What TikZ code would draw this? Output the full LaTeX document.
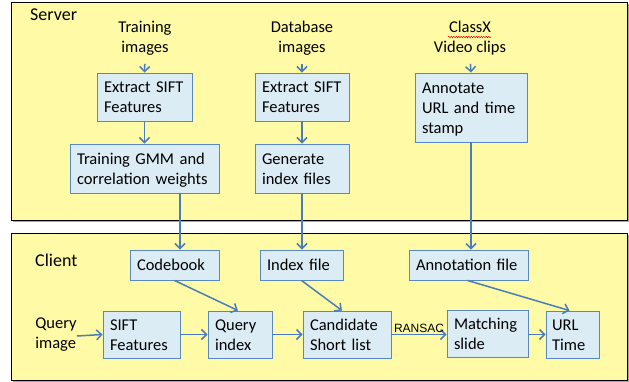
\documentclass[tikz,border=0pt]{standalone}
\usepackage{fontspec}
\setmainfont{Carlito}
\newfontfamily\ransacfont{Liberation Sans}
\usetikzlibrary{arrows.meta,shadows,decorations.pathmorphing}
\definecolor{panelfill}{RGB}{255,250,165}
\definecolor{boxfill}{RGB}{219,236,245}
\definecolor{boxline}{RGB}{88,136,190}
\definecolor{flowblue}{RGB}{74,126,187}
\newcommand{\bodyfont}{\fontsize{16.5}{20}\selectfont}
\newcommand{\panelfont}{\fontsize{18}{22}\selectfont}
% fixed first-line height and last-line depth so every block is centred alike
\newcommand{\topstrut}{\noindent\rule{0pt}{15pt}}
\newcommand{\botstrut}{\rule[-4pt]{0pt}{4pt}}
\begin{document}
\begin{tikzpicture}[x=1pt,y=-1pt,
  panel/.style={draw=black, line width=1.3pt, fill=panelfill, anchor=north west,
    inner sep=0pt, drop shadow={shadow xshift=1pt, shadow yshift=-1pt, opacity=0.35, fill=black}},
  proc/.style={draw=boxline, line width=0.9pt, fill=boxfill, align=left,
    inner xsep=7pt, inner ysep=0pt, font=\bodyfont,
    execute at begin node=\topstrut, execute at end node=\botstrut,
    drop shadow={shadow xshift=1.2pt, shadow yshift=-1.2pt, opacity=0.2, fill=black}},
  inlabel/.style={align=center, inner sep=0pt, font=\bodyfont,
    execute at begin node=\topstrut, execute at end node=\botstrut},
  arr/.style={draw=flowblue, line width=1.5pt, -{Straight Barb[length=5pt,width=10pt]}},
]
\useasboundingbox (0,0) rectangle (629,381);
\fill[white] (0,0) rectangle (629,381);

% two panels
\node[panel, minimum width=616pt, minimum height=218pt] (server) at (11,2) {};
\node[panel, minimum width=616pt, minimum height=147pt] (client) at (11,233) {};
\node[anchor=west, inner sep=0pt, font=\panelfont] (srvlbl) at (30,15) {Server};
\node[anchor=west, inner sep=0pt, font=\panelfont] (clilbl) at (35,260) {Client};

% server side inputs
\node[inlabel] (trin) at (145,39) {Training\\images};
\node[inlabel] (dbin) at (302,39) {Database\\images};
\node[inlabel] (vidin) at (470,39) {ClassX\\Video clips};
\draw[red, line width=0.5pt, decorate, decoration={snake, amplitude=0.7pt, segment length=2.5pt}]
  (448,37) -- (491,37);

% server processing boxes
\node[proc, text width=81pt, minimum height=48pt] (sift1) at (144.5,97) {Extract SIFT\\Features};
\node[proc, text width=135pt, minimum height=49pt] (gmm) at (144.5,168.5) {Training GMM and\\correlation weights};
\node[proc, text width=80pt, minimum height=48pt] (sift2) at (302,97) {Extract SIFT\\Features};
\node[proc, text width=80pt, minimum height=49pt] (genidx) at (302,168.5) {Generate\\index files};
\node[proc, text width=98pt, minimum height=69pt] (annot) at (471,107.5) {Annotate\\URL and time\\stamp};

% client boxes
\node[proc, text width=75pt, minimum height=30pt] (codebook) at (174.5,265) {Codebook};
\node[proc, text width=69pt, minimum height=30pt] (idxfile) at (301.5,265) {Index file};
\node[proc, text width=105pt, minimum height=30pt] (annfile) at (468.5,265) {Annotation file};
\node[inlabel, align=left] (qimg) at (56,335) {Query\\image};
\node[proc, text width=63pt, minimum height=47pt] (siftq) at (141.5,334.5) {SIFT\\Features};
\node[proc, text width=50pt, minimum height=47pt] (qidx) at (240,334.5) {Query\\index};
\node[proc, text width=74pt, minimum height=47pt] (cand) at (347,334.5) {Candidate\\Short list};
\node[proc, text width=67pt, minimum height=47pt] (match) at (487.5,333.5) {Matching\\slide};
\node[proc, text width=41pt, inner xsep=6pt, minimum height=47pt] (url) at (572.5,334.5) {URL\\Time};

% server flow
\draw[arr, shorten <=7pt] (trin.south) -- (sift1.north);
\draw[arr] (sift1.south) -- (gmm.north);
\draw[arr, shorten <=7pt] (dbin.south) -- (sift2.north);
\draw[arr] (sift2.south) -- (genidx.north);
\draw[arr, shorten <=7pt] (vidin.south) -- (annot.north);

% server to client
\draw[arr] ([xshift=35.5pt]gmm.south) -- ([xshift=5.5pt]codebook.north);
\draw[arr] (genidx.south) -- (genidx.south |- idxfile.north);
\draw[arr] (annot.south) -- (annot.south |- annfile.north);

% client flow
\draw[arr] ([yshift=-1pt]qimg.east) -- (siftq.west);
\draw[arr] (siftq.east) -- (qidx.west);
\draw[arr] (qidx.east) -- (cand.west);
\draw[arr] (cand.east) -- node[above=0pt, inner sep=1pt, font=\ransacfont\fontsize{12}{14}\selectfont] {RANSAC} (cand.east -| match.west);
\draw[arr] (match.east |- url.west) -- (url.west);
\draw[arr] (codebook.south) -- ([xshift=-2pt]qidx.north);
\draw[arr] (idxfile.south) -- ([xshift=-5pt]cand.north);
\draw[arr] ([xshift=-1pt]annfile.south) -- ([xshift=-3pt]url.north);
\end{tikzpicture}
\end{document}
